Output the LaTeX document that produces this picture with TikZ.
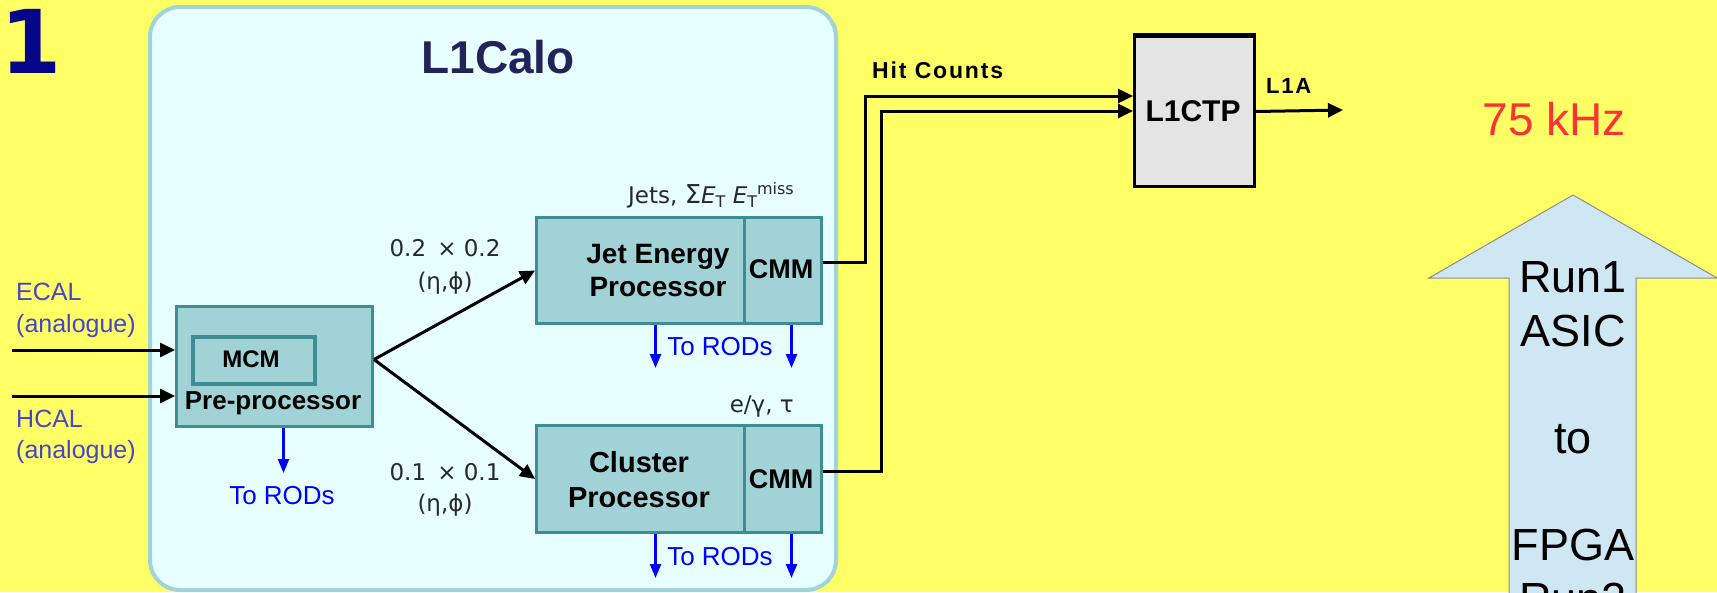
\documentclass[tikz,border=0pt]{standalone}
\usepackage{fontspec}
\setmainfont{Liberation Sans}
\newfontfamily\djv{DejaVu Sans}
\newfontfamily\spaced[LetterSpace=8]{Liberation Sans}
\usetikzlibrary{arrows.meta}
\definecolor{bgy}{RGB}{255,255,102}
\definecolor{calofill}{RGB}{232,255,255}
\definecolor{caloedge}{RGB}{160,212,218}
\definecolor{procfill}{RGB}{160,210,214}
\definecolor{procedge}{RGB}{62,140,148}
\definecolor{ctpfill}{RGB}{228,228,228}
\definecolor{arrfill}{RGB}{207,230,243}
\definecolor{arredge}{RGB}{140,140,140}
\definecolor{navyone}{RGB}{5,5,135}
\definecolor{titlec}{RGB}{35,35,90}
\definecolor{inblue}{RGB}{70,70,200}
\definecolor{rodblue}{RGB}{0,0,255}
\definecolor{khz}{RGB}{255,51,51}
\definecolor{labgray}{RGB}{40,40,40}
\newcommand\fsz[1]{\fontsize{#1}{#1}\selectfont}
\tikzset{
  calobox/.style={draw=caloedge, fill=calofill, line width=4pt, rounded corners=30pt, inner sep=0, anchor=north west},
  procbox/.style={draw=procedge, fill=procfill, line width=3pt, inner sep=0, anchor=north west},
  ctpbox/.style={draw=black, fill=ctpfill, line width=3pt, inner sep=0, anchor=north west},
  txt/.style={inner sep=0, anchor=base},
  conn/.style={line width=3pt, draw=black},
  tip/.style={-{Triangle[length=15pt,width=14pt]}},
  rod/.style={line width=2.5pt, draw=rodblue, -{Triangle[length=14pt,width=11pt]}},
  inlab/.style={inner sep=0, anchor=base west, font=\fsz{25}, text=inblue},
  rodlab/.style={txt, font=\fsz{26}, text=rodblue},
  boxlab/.style={txt, font=\bfseries\fsz{#1}},
  gridlab/.style={txt, font=\djv\fsz{23}, text=labgray},
  runlab/.style={txt, font=\fsz{45}}
}
\begin{document}
\begin{tikzpicture}[x=1pt,y=-1pt]
\useasboundingbox (0,0) rectangle (1717,592);
\fill[bgy] (0,0) rectangle (1717,592);
\begin{scope}
\clip (0,0) rectangle (1717,592);
% big arrow
\filldraw[fill=arrfill, draw=arredge, line width=1pt] (1509,610) -- (1509,278) -- (1429,278) -- (1573,195) -- (1717,278) -- (1636,278) -- (1636,610) -- cycle;
\node[runlab] (r1) at (1573,292) {Run1};
\node[runlab] (r2) at (1573,346) {ASIC};
\node[runlab] (r3) at (1573,453) {to};
\node[runlab] (r4) at (1573,560) {FPGA};
\node[runlab] (r5) at (1573,614) {Run2};
\end{scope}

% title number
\node[txt, font=\djv\bfseries\fsz{88}, text=navyone] (one) at (31,73) {1};

% L1Calo box
\node[calobox, minimum width=686, minimum height=583] (calo) at (148,5) {};
\node[txt, font=\bfseries\fsz{46}, text=titlec] (title) at (498,73) {L1Calo};

% boxes
\node[procbox, minimum width=196, minimum height=120] (pre) at (175,305) {};
\node[procbox, line width=4pt, minimum width=122, minimum height=47] (mcm) at (191,335) {};
\node[procbox, minimum width=208, minimum height=106] (jep) at (535,216) {};
\node[procbox, minimum width=77, minimum height=106] (jepcmm) at (743,216) {};
\node[procbox, minimum width=208, minimum height=107] (cp) at (535,424) {};
\node[procbox, minimum width=77, minimum height=107] (cpcmm) at (743,424) {};
\node[ctpbox, minimum width=120, minimum height=150] (ctp) at (1133,35) {};
\draw[line width=5pt] (ctp.north west) -- (ctp.north east);

% box labels
\node[boxlab=24] (mcmt) at (251,367) {MCM};
\node[boxlab=26] (pret) at (273,409) {Pre-processor};
\node[boxlab=28] (jept1) at (658,263) {Jet Energy};
\node[boxlab=28] (jept2) at (658,296) {Processor};
\node[boxlab=27] (jepcmmt) at (781,278) {CMM};
\node[boxlab=29] (cpt1) at (639,472) {Cluster};
\node[boxlab=29] (cpt2) at (639,507) {Processor};
\node[boxlab=27] (cpcmmt) at (781,488) {CMM};
\node[boxlab=30] (ctpt) at (1193,121) {L1CTP};

% input labels
\node[inlab] (ecal) at (16,300) {ECAL};
\node[inlab] (ecala) at (16,332) {(analogue)};
\node[inlab] (hcal) at (16,427) {HCAL};
\node[inlab] (hcala) at (16,458) {(analogue)};

% grid labels
\node[gridlab] (g1) at (445,256) {0.2 \,× 0.2};
\node[gridlab] (g1b) at (445,289) {(η,ϕ)};
\node[gridlab] (g2) at (445,480) {0.1 \,× 0.1};
\node[gridlab] (g2b) at (445,511) {(η,ϕ)};

% output labels
\node[gridlab, anchor=base east] (jets) at (794,203) {Jets, {\fsz{26}Σ}\textit{E}\raisebox{-4pt}{\fsz{16}T} \textit{E}\raisebox{-4pt}{\fsz{16}T}\raisebox{9pt}{\fsz{16}miss}};
\node[gridlab, anchor=base east] (egam) at (794,412) {e/γ, τ};

% To RODs
\node[rodlab] (rod1) at (282,504) {To RODs};
\node[rodlab] (rod2) at (720,355) {To RODs};
\node[rodlab] (rod3) at (720,565) {To RODs};

% connectors
\coordinate (ein) at (12,350);
\coordinate (hin) at (12,396);
\draw[conn, tip] (ein) -- (ein -| pre.west);
\draw[conn, tip] (hin) -- (hin -| pre.west);
\coordinate (split) at ([yshift=7pt]pre.east);
\draw[conn, tip] (split) -- (jep.west);
\draw[conn, tip] (split) -- (cp.west);

\coordinate (h1) at (865,96);
\coordinate (h2) at (881,111);
\draw[conn, tip] ([yshift=8pt]jepcmm.east) -| (h1) -- (h1 -| ctp.west);
\draw[conn, tip] ([yshift=7.5pt]cpcmm.east) -| (h2) -- (h2 -| ctp.west);
\coordinate (l1aend) at (1343,110);
\draw[conn, tip] (ctp.east) -- (l1aend);

\node[txt, anchor=base west, font=\spaced\bfseries\fsz{23}] (hit) at (872,78) {Hit Counts};
\node[txt, anchor=base west, font=\spaced\bfseries\fsz{22}] (l1a) at (1266,93) {L1A};
\node[txt, font=\fsz{46}, text=khz] (rate) at (1554,135) {75 kHz};

% blue arrows
\draw[rod] (pre.south) ++(9,0) -- ++(0,45);
\draw[rod] (jep.south) ++(15,0) -- ++(0,43);
\draw[rod] (jepcmm.south) ++(8.5,0) -- ++(0,43);
\draw[rod] (cp.south) ++(15,0) -- ++(0,44);
\draw[rod] (cpcmm.south) ++(8.5,0) -- ++(0,44);
\end{tikzpicture}
\end{document}
